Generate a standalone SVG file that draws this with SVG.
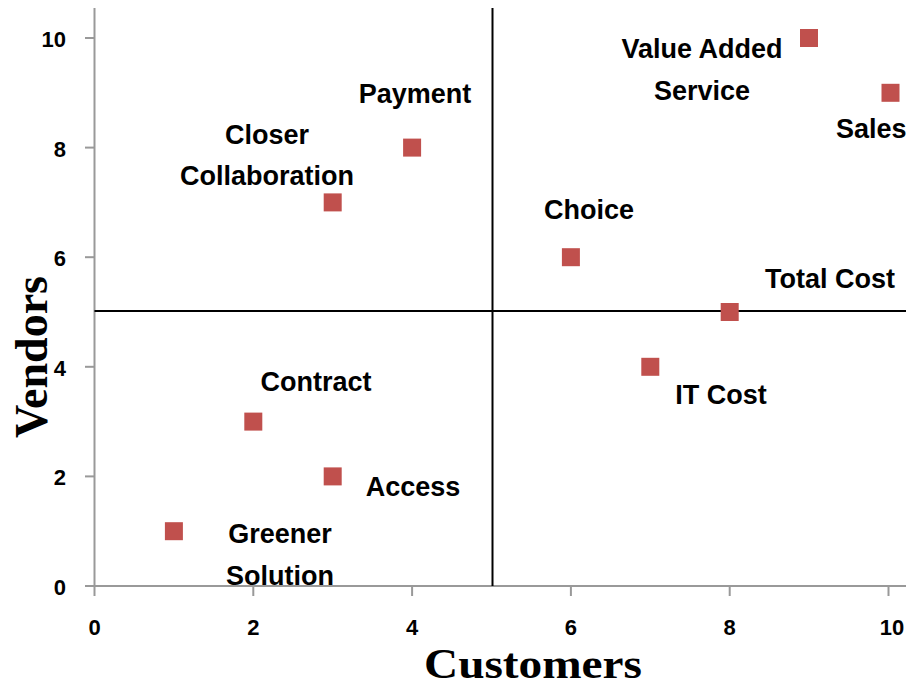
<svg xmlns="http://www.w3.org/2000/svg" width="906" height="688" viewBox="0 0 906 688">
<style>
.axis{stroke:#999;stroke-width:2;fill:none}
.quad{stroke:#000;stroke-width:2;fill:none}
.tick{font-family:"Liberation Sans",Arial,sans-serif;font-weight:bold;font-size:22px;fill:#000}
.lbl{font-family:"Liberation Sans",Arial,sans-serif;font-weight:bold;font-size:27px;fill:#000}
.title{font-family:"Liberation Serif","Times New Roman",serif;font-weight:bold;font-size:46px;fill:#000}
.pt{fill:#C0504D}
</style>
<rect width="906" height="688" fill="#fff"/>
<g id="axes">
<line class="axis" x1="94.5" y1="8" x2="94.5" y2="586"/>
<line class="axis" x1="85" y1="586" x2="906" y2="586"/>
<g class="axis">
<line x1="85" y1="38" x2="94.5" y2="38"/>
<line x1="85" y1="147.6" x2="94.5" y2="147.6"/>
<line x1="85" y1="257.2" x2="94.5" y2="257.2"/>
<line x1="85" y1="366.8" x2="94.5" y2="366.8"/>
<line x1="85" y1="476.4" x2="94.5" y2="476.4"/>
<line x1="94.5" y1="586" x2="94.5" y2="596"/>
<line x1="253.3" y1="586" x2="253.3" y2="596"/>
<line x1="412.1" y1="586" x2="412.1" y2="596"/>
<line x1="570.9" y1="586" x2="570.9" y2="596"/>
<line x1="729.7" y1="586" x2="729.7" y2="596"/>
<line x1="888.5" y1="586" x2="888.5" y2="596"/>
</g>
<g class="tick" text-anchor="end">
<text x="66" y="47">10</text>
<text x="66" y="156.6">8</text>
<text x="66" y="266.2">6</text>
<text x="66" y="375.8">4</text>
<text x="66" y="485.4">2</text>
<text x="66" y="595">0</text>
</g>
<g class="tick" text-anchor="middle">
<text x="94.5" y="635">0</text>
<text x="253.3" y="635">2</text>
<text x="412.1" y="635">4</text>
<text x="570.9" y="635">6</text>
<text x="729.7" y="635">8</text>
<text x="892" y="635">10</text>
</g>
<text class="title" x="424" y="678" style="font-size:42px" textLength="218" lengthAdjust="spacingAndGlyphs">Customers</text>
<text class="title" transform="translate(47,357) rotate(-90)" text-anchor="middle">Vendors</text>
</g>
<g id="quadrants">
<line class="quad" x1="492.5" y1="8" x2="492.5" y2="586"/>
<line class="quad" x1="94.5" y1="311" x2="906" y2="311"/>
</g>
<g id="value-added-service">
<rect class="pt" x="800" y="29" width="18" height="18"/>
<text class="lbl" x="702" y="58" text-anchor="middle">Value Added</text>
<text class="lbl" x="702" y="100" text-anchor="middle">Service</text>
</g>
<g id="sales">
<rect class="pt" x="881.5" y="83.8" width="18" height="18"/>
<text class="lbl" x="836" y="138">Sales</text>
</g>
<g id="payment">
<rect class="pt" x="403.1" y="138.6" width="18" height="18"/>
<text class="lbl" x="415" y="103" text-anchor="middle">Payment</text>
</g>
<g id="closer-collaboration">
<rect class="pt" x="323.7" y="193.4" width="18" height="18"/>
<text class="lbl" x="267" y="144" text-anchor="middle">Closer</text>
<text class="lbl" x="267" y="185" text-anchor="middle">Collaboration</text>
</g>
<g id="choice">
<rect class="pt" x="561.9" y="248.2" width="18" height="18"/>
<text class="lbl" x="589" y="219" text-anchor="middle">Choice</text>
</g>
<g id="total-cost">
<rect class="pt" x="720.7" y="303" width="18" height="18"/>
<text class="lbl" x="830" y="288" text-anchor="middle">Total Cost</text>
</g>
<g id="it-cost">
<rect class="pt" x="641.3" y="357.8" width="18" height="18"/>
<text class="lbl" x="721" y="404" text-anchor="middle">IT Cost</text>
</g>
<g id="contract">
<rect class="pt" x="244.3" y="412.6" width="18" height="18"/>
<text class="lbl" x="316" y="391" text-anchor="middle">Contract</text>
</g>
<g id="access">
<rect class="pt" x="323.7" y="467.4" width="18" height="18"/>
<text class="lbl" x="413" y="496" text-anchor="middle">Access</text>
</g>
<g id="greener-solution">
<rect class="pt" x="164.9" y="522.2" width="18" height="18"/>
<text class="lbl" x="280" y="543" text-anchor="middle">Greener</text>
<text class="lbl" x="280" y="585" text-anchor="middle">Solution</text>
</g>
</svg>
